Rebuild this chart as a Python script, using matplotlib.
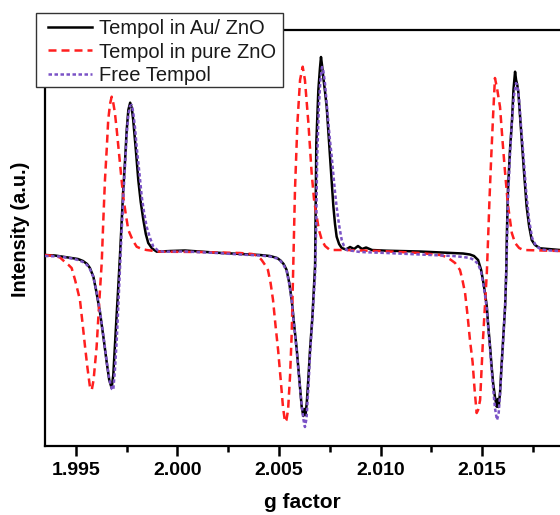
import matplotlib
matplotlib.use("Agg")
import matplotlib.pyplot as plt
from matplotlib.patches import Rectangle
from matplotlib.ticker import MultipleLocator

plt.rcParams['font.family'] = ['Liberation Sans', 'DejaVu Sans']

# ---------------- data ----------------
labels = ["Tempol in Au/ ZnO", "Tempol in pure ZnO", "Free Tempol"]

black_g = [
    1.99349, 1.99398, 1.99447, 1.99482, 1.99511, 1.99536, 1.99556, 1.99570,
    1.99587, 1.99602, 1.99620, 1.99637, 1.99653, 1.99665, 1.99677, 1.99685,
    1.99693, 1.99702, 1.99710, 1.99718, 1.99726, 1.99734, 1.99743, 1.99751,
    1.99759, 1.99768, 1.99776, 1.99783, 1.99796, 1.99808, 1.99820, 1.99833,
    1.99845, 1.99857, 1.99876, 1.99899, 1.99964, 2.00038, 2.00112, 2.00194,
    2.00309, 2.00407, 2.00456, 2.00491, 2.00508, 2.00523, 2.00538, 2.00551,
    2.00563, 2.00575, 2.00588, 2.00600, 2.00612, 2.00620, 2.00626, 2.00631,
    2.00637, 2.00645, 2.00653, 2.00665, 2.00678, 2.00681, 2.00684, 2.00694,
    2.00702, 2.00707, 2.00712, 2.00718, 2.00727, 2.00735, 2.00743, 2.00751,
    2.00760, 2.00768, 2.00776, 2.00784, 2.00796, 2.00809, 2.00830, 2.00850,
    2.00870, 2.00889, 2.00909, 2.00929, 2.00958, 2.01030, 2.01194, 2.01357,
    2.01406, 2.01440, 2.01460, 2.01480, 2.01495, 2.01504, 2.01514, 2.01523,
    2.01530, 2.01539, 2.01546, 2.01554, 2.01563, 2.01572, 2.01577, 2.01581,
    2.01588, 2.01595, 2.01603, 2.01613, 2.01619, 2.01621, 2.01627, 2.01637,
    2.01647, 2.01654, 2.01662, 2.01667, 2.01672, 2.01678, 2.01686, 2.01695,
    2.01706, 2.01719, 2.01731, 2.01744, 2.01760, 2.01785, 2.01824, 2.01883]
black_i = [
    0, -0.5, -2, -3, -4, -6, -9, -13,
    -21.7, -37, -58, -83, -108, -125, -133, -120,
    -90, -58, -30, 0, 33, 65, 95, 125,
    145, 152.3, 147, 135, 105, 75, 53, 35,
    21, 12, 6.5, 3.3, 4, 4.5, 3.5, 2.3,
    1, 0, -1, -3, -5.5, -9, -15, -28,
    -45, -70, -95, -123, -151.7, -161, -154, -160,
    -148, -123, -95, -61, -10, 55, 112, 165,
    187, 198, 190, 178.3, 163, 148.3, 124, 98.3,
    73, 48.3, 31, 18.3, 11, 7, 5.5, 8,
    6, 9, 6, 7.5, 5, 4.3, 3.5, 2,
    1.5, 0.5, -1, -5, -15, -25, -38, -51.7,
    -71, -91.7, -110, -128, -142, -151.7, -144, -152,
    -138, -112, -85, -51.7, -15, 15, 65, 105,
    135, 165, 183.3, 175, 171, 163, 140, 115,
    83, 48.3, 29, 15, 10, 6.7, 6, 5]

red_g = [
    1.99349, 1.99398, 1.99423, 1.99447, 1.99465, 1.99480, 1.99497, 1.99509,
    1.99521, 1.99533, 1.99546, 1.99558, 1.99570, 1.99579, 1.99588, 1.99603,
    1.99615, 1.99628, 1.99636, 1.99644, 1.99653, 1.99660, 1.99669, 1.99677,
    1.99685, 1.99693, 1.99702, 1.99710, 1.99722, 1.99734, 1.99747, 1.99759,
    1.99780, 1.99800, 1.99825, 1.99849, 1.99915, 2.00112, 2.00309, 2.00368,
    2.00397, 2.00415, 2.00432, 2.00446, 2.00459, 2.00471, 2.00483, 2.00496,
    2.00508, 2.00520, 2.00530, 2.00537, 2.00545, 2.00555, 2.00563, 2.00571,
    2.00579, 2.00591, 2.00604, 2.00617, 2.00628, 2.00645, 2.00661, 2.00673,
    2.00686, 2.00697, 2.00711, 2.00727, 2.00751, 2.00825, 2.00997, 2.01194,
    2.01293, 2.01326, 2.01347, 2.01367, 2.01391, 2.01403, 2.01416, 2.01428,
    2.01440, 2.01453, 2.01463, 2.01473, 2.01480, 2.01490, 2.01497, 2.01504,
    2.01514, 2.01523, 2.01529, 2.01536, 2.01544, 2.01554, 2.01563, 2.01573,
    2.01588, 2.01600, 2.01613, 2.01627, 2.01646, 2.01662, 2.01682, 2.01703,
    2.01883]
red_i = [
    0, -1, -2.5, -7, -10, -13, -25, -35,
    -45, -67, -91.7, -113, -131.7, -135, -125, -91.7,
    -50, -8, 35, 75, 107, 135, 151, 158.3,
    152, 142, 125, 108.3, 83, 58.3, 40, 25,
    15, 8.3, 6, 5, 3.3, 3, 2, 1,
    -1, -5, -10, -15, -28, -45, -70, -95,
    -123, -152, -167, -165, -155, -120, -78, -7,
    65, 132, 175, 188.3, 175, 132, 82, 55,
    38.3, 25, 15, 9, 5, 5, 4, 2,
    0, -2, -5, -8, -15, -25, -38, -60,
    -85, -107, -135, -158, -155, -145, -115, -85,
    -50, -18, 15, 55, 95, 140, 177, 167,
    148, 115, 82, 50, 22, 12, 7, 5,
    4]

purple_g = [
    1.99349, 1.99423, 1.99482, 1.99511, 1.99536, 1.99556, 1.99570, 1.99587,
    1.99602, 1.99620, 1.99637, 1.99653, 1.99666, 1.99678, 1.99685, 1.99693,
    1.99702, 1.99710, 1.99718, 1.99726, 1.99734, 1.99743, 1.99751, 1.99759,
    1.99767, 1.99776, 1.99783, 1.99792, 1.99800, 1.99813, 1.99825, 1.99837,
    1.99849, 1.99866, 1.99882, 1.99905, 1.99931, 2.00038, 2.00194, 2.00309,
    2.00407, 2.00456, 2.00491, 2.00508, 2.00523, 2.00538, 2.00551, 2.00563,
    2.00575, 2.00588, 2.00600, 2.00612, 2.00621, 2.00628, 2.00636, 2.00645,
    2.00653, 2.00665, 2.00678, 2.00684, 2.00688, 2.00696, 2.00704, 2.00712,
    2.00718, 2.00727, 2.00735, 2.00743, 2.00751, 2.00760, 2.00768, 2.00776,
    2.00784, 2.00796, 2.00809, 2.00820, 2.00834, 2.00899, 2.01030, 2.01194,
    2.01357, 2.01406, 2.01440, 2.01460, 2.01480, 2.01495, 2.01504, 2.01514,
    2.01523, 2.01530, 2.01539, 2.01546, 2.01554, 2.01563, 2.01573, 2.01581,
    2.01588, 2.01595, 2.01603, 2.01613, 2.01621, 2.01627, 2.01637, 2.01647,
    2.01657, 2.01667, 2.01674, 2.01682, 2.01691, 2.01703, 2.01716, 2.01731,
    2.01746, 2.01765, 2.01790, 2.01834, 2.01883]
purple_i = [
    -1, -1.5, -3.5, -5, -7, -10, -14, -22,
    -36, -57, -82, -107, -125, -134, -135, -115,
    -85, -50, -13, 23, 57, 90, 120, 140,
    149, 150, 143, 127, 108.3, 83, 58.3, 42,
    28.3, 17, 8.3, 4.5, 3.3, 3.5, 2, 0.5,
    -0.5, -1.5, -3.5, -6, -10, -16, -29, -46,
    -71, -97, -125, -150, -165, -172, -163, -133,
    -100, -63, -20, 35, 95, 145, 175, 188,
    185, 171, 152, 133, 115, 98, 80, 63,
    48, 30, 15, 9, 5, 3, 2, 0.5,
    -1, -2, -3, -5, -9, -17, -27, -40,
    -54, -73, -94, -113, -133, -153, -165, -159,
    -140, -115, -88, -50, 0, 55, 100, 135,
    160, 172, 169, 155, 130, 100, 65, 35,
    17, 9, 5.5, 4.5, 4]

xticks = [1.995, 2.000, 2.005, 2.010, 2.015]
xtick_labels = ["1.995", "2.000", "2.005", "2.010", "2.015"]

# ---------------- figure ----------------
W, H = 560, 515
fig = plt.figure(figsize=(W / 100, H / 100), dpi=100)
fig.patch.set_facecolor('white')
ax = fig.add_axes([44.6 / W, 1 - 445.7 / H, (561 - 44.6) / W, (445.7 - 30) / H])

l1, = ax.plot(black_g, black_i, color='black', lw=1.8, solid_joinstyle='round', zorder=3)
l2, = ax.plot(red_g, red_i, color='#ff1f1f', lw=1.8, linestyle=(0, (3.2, 2.0)), zorder=4)
l3, = ax.plot(purple_g, purple_i, color='#7a52c6', lw=1.8, linestyle=(0, (1.4, 1.0)), zorder=5)

ax.set_xlim(1.99347, 2.01888)
ax.set_ylim(-190.7, 225)

ax.set_xticks(xticks)
ax.set_xticklabels(xtick_labels)
ax.xaxis.set_minor_locator(MultipleLocator(0.0025))
ax.set_yticks([])
ax.tick_params(axis='x', which='major', direction='out', length=7.2, width=1.8, pad=4.5,
               labelsize=14)
ax.tick_params(axis='x', which='minor', direction='out', length=4.1, width=1.8)
for lab in ax.get_xticklabels():
    lab.set_fontweight('bold')
ax.spines['right'].set_visible(False)
for s in ('left', 'bottom', 'top'):
    ax.spines[s].set_linewidth(1.6)

fig.text(302.7 / W, 1 - 503 / H, "g factor", ha='center', va='center',
         fontsize=15, fontweight='bold')
fig.text(20.5 / W, 1 - 229 / H, "Intensity (a.u.)", ha='center', va='center',
         rotation=90, fontsize=14.3, fontweight='bold')

# legend frame + legend
rect = Rectangle((36 / W, 1 - 87 / H), 247 / W, 74 / H, transform=fig.transFigure,
                 facecolor='white', edgecolor='#333333', lw=1.0, zorder=10)
fig.add_artist(rect)
leg = fig.legend([l1, l2, l3], labels, loc='upper left',
                 bbox_to_anchor=(48 / W, 1 - 19.5 / H), bbox_transform=fig.transFigure,
                 frameon=False, fontsize=14.5, handlelength=2.2, handletextpad=0.35,
                 labelspacing=0.2, borderpad=0, borderaxespad=0)
leg.set_zorder(11)
for t in leg.get_texts():
    t.set_color('#1a1a1a')

fig.savefig("out.png", dpi=100)
